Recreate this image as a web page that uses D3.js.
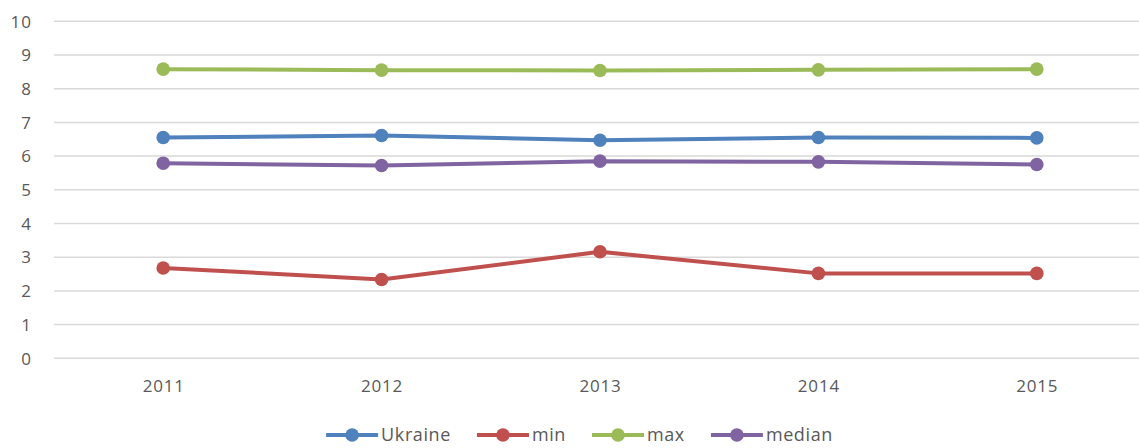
<!DOCTYPE html>
<html><head><meta charset="utf-8">
<script src="https://cdn.jsdelivr.net/npm/d3@7/dist/d3.min.js"></script>
<style>body{margin:0;background:#fff;}svg{display:block;font-family:"Open Sans",sans-serif;}</style>
</head><body>
<svg id="c" width="1139" height="448"></svg>
<script>
const years = ["2011","2012","2013","2014","2015"];
const ukraine = [6.55, 6.61, 6.47, 6.55, 6.54];
const minVals = [2.68, 2.34, 3.16, 2.52, 2.52];
const maxVals = [8.58, 8.55, 8.54, 8.56, 8.58];
const median = [5.79, 5.72, 5.85, 5.83, 5.75];
const yTicks = [0,1,2,3,4,5,6,7,8,9,10];
const seriesNames = ["Ukraine","min","max","median"];
const colors = ["#4F81BD","#C0504D","#9BBB59","#8064A2"];

(function(){
const series = [ukraine, minVals, maxVals, median].map((v,i)=>({name:seriesNames[i], values:v, color:colors[i]}));

const svg = d3.select("#c");
const pLeft = 54, pRight = 1146, pTop = 21.3, pBottom = 358.3;
const x = d3.scalePoint().domain(years).range([pLeft, pRight]).padding(0.5);
const y = d3.scaleLinear().domain([0,10]).range([pBottom, pTop]);
const textCol = "#595959";

// gridlines
svg.append("g").selectAll("line").data(yTicks).join("line")
  .attr("x1", pLeft).attr("x2", 1139)
  .attr("y1", d=>y(d)).attr("y2", d=>y(d))
  .attr("stroke", "#d9d9d9").attr("stroke-width", 1.5);

// y labels
const yAxis = d3.axisLeft(y).tickValues(yTicks).tickSize(0).tickPadding(0);
const gy = svg.append("g").attr("transform", `translate(32,0)`).call(yAxis);
gy.select(".domain").remove();
gy.selectAll("text").attr("font-size", 17).attr("letter-spacing", 1).attr("fill", textCol)
  .attr("font-family", '"Open Sans",sans-serif').attr("dy","0.34em");

// x labels
const xAxis = d3.axisBottom(x).tickSize(0).tickPadding(0);
const gx = svg.append("g").attr("transform", `translate(0,386)`).call(xAxis);
gx.select(".domain").remove();
gx.selectAll("text").attr("font-size", 17).attr("letter-spacing", 0.8).attr("fill", textCol)
  .attr("font-family", '"Open Sans",sans-serif').attr("dy","0.34em");

const line = d3.line().x((d,i)=>x(years[i])).y(d=>y(d));
series.forEach(s=>{
  svg.append("path").datum(s.values).attr("d", line)
    .attr("fill","none").attr("stroke", s.color).attr("stroke-width", 4)
    .attr("stroke-linejoin","round").attr("stroke-linecap","round");
  svg.append("g").selectAll("circle").data(s.values).join("circle")
    .attr("cx",(d,i)=>x(years[i])).attr("cy", d=>y(d)).attr("r", 6.8)
    .attr("fill", s.color);
});

// legend
const lg = svg.append("g").attr("transform","translate(0,435)");
const items = [];
let cx = 0;
series.forEach((s,i)=>{
  const g = lg.append("g");
  g.append("line").attr("x1",0).attr("x2",52).attr("y1",0).attr("y2",0)
    .attr("stroke",s.color).attr("stroke-width",4);
  g.append("circle").attr("cx",26).attr("cy",0).attr("r",6.8).attr("fill",s.color);
  const t = g.append("text").attr("x",55).attr("y",0).attr("dy","0.35em")
    .attr("font-size",18).attr("letter-spacing",0.6).attr("fill",textCol).text(s.name);
  const w = 55 + t.node().getComputedTextLength();
  items.push({g, pos: cx});
  cx += w + 26;
});
const total = cx - 26;
const start = 579.5 - total/2;
items.forEach(it=>it.g.attr("transform",`translate(${start+it.pos},0)`));
})();
</script>
</body></html>
